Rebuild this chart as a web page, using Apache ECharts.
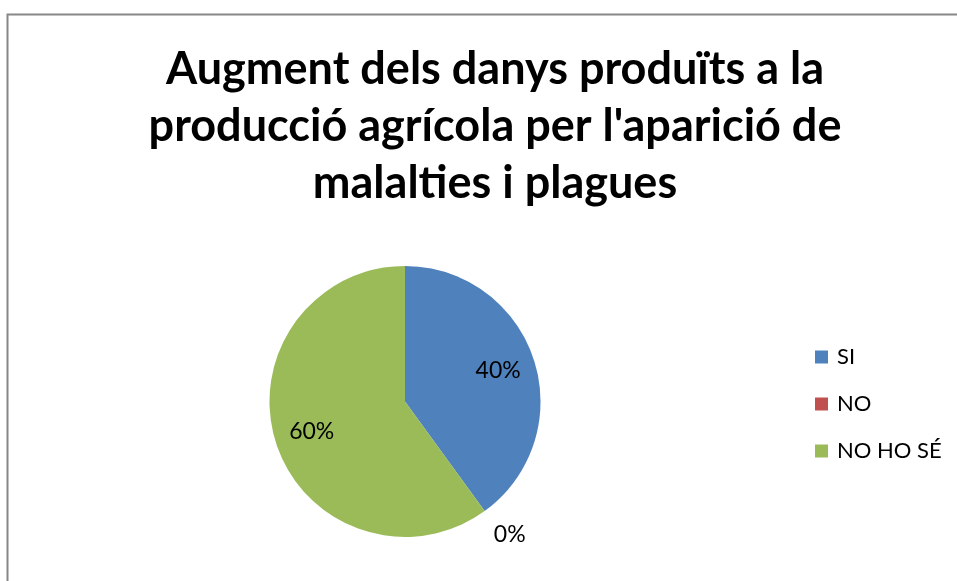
<!DOCTYPE html>
<html><head><meta charset="utf-8">
<script src="https://cdn.jsdelivr.net/npm/echarts@6/dist/echarts.min.js"></script>
<style>html,body{margin:0;padding:0;background:#fff}#c{width:957px;height:581px}</style>
</head><body><div id="c"></div>
<script>
const titleText = "Augment dels danys produïts a la\nproducció agrícola per l'aparició de\nmalalties i plagues";
const categories = ["SI", "NO", "NO HO SÉ"];
const values = [40, 0, 60];
const colors = ["#4F81BD", "#C0504D", "#9BBB59"];

const chart = echarts.init(document.getElementById('c'), null, {renderer: 'canvas'});
const fontFam = "Lato, 'Open Sans', sans-serif";
const mainData = categories.map((n, i) => ({name: n, value: values[i], itemStyle: {color: colors[i]}}));
const labelData = categories.map((n, i) => {
  const d = {name: n, value: values[i]};
  if (values[i] === 0) {
    d.label = {position: 'outside', distanceToLabelLine: -8};
    d.labelLine = {show: false, length: 5, length2: 0};
  }
  return d;
});
chart.setOption({
  animation: false,
  title: {
    text: titleText, left: 490, top: 36, textAlign: 'center',
    textStyle: {fontFamily: fontFam, fontWeight: 'bold', fontSize: 45, lineHeight: 57, color: '#000'}
  },
  legend: {
    orient: 'vertical', left: 815, top: 346, padding: 0, itemWidth: 13, itemHeight: 13, itemGap: 25,
    icon: 'rect',
    data: categories,
    textStyle: {fontFamily: fontFam, fontSize: 22, color: '#000', padding: [0,0,0,4]}
  },
  graphic: [{type: 'rect', shape: {x: 7.5, y: 14.5, width: 1000, height: 600}, style: {fill: null, stroke: '#888', lineWidth: 2}, silent: true}],
  series: [
    {
      type: 'pie', center: [405, 401.5], radius: [0, 135.5], startAngle: 90, clockwise: true,
      data: mainData, label: {show: false}, labelLine: {show: false}, emphasis: {disabled: true}
    },
    {
      type: 'pie', center: [405, 401.5], radius: [30, 160], startAngle: 90, clockwise: true, minAngle: 0.5,
      itemStyle: {color: 'rgba(0,0,0,0)'}, legendHoverLink: false, emphasis: {disabled: true},
      data: labelData,
      label: {show: true, position: 'inside', formatter: '{c}%', fontFamily: fontFam, fontSize: 23, color: '#000'},
      labelLine: {show: false}
    }
  ]
});
</script></body></html>
